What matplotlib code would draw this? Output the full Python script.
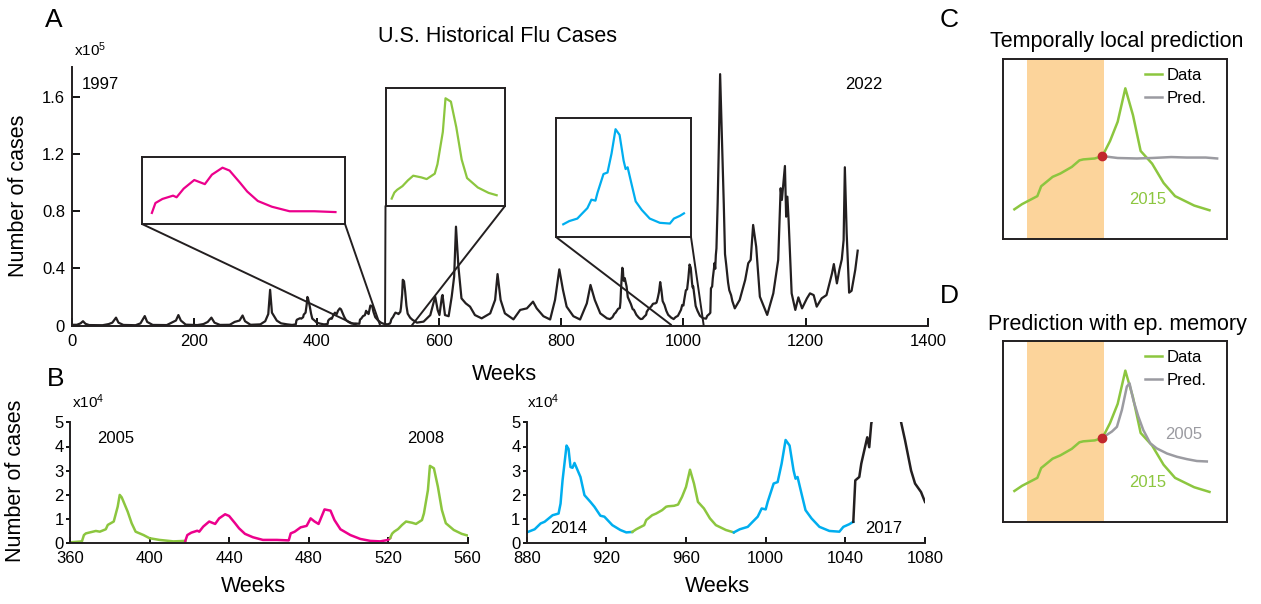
import numpy as np
import matplotlib
matplotlib.use('Agg')
import matplotlib.pyplot as plt
from matplotlib.patches import ConnectionPatch

plt.rcParams['font.family'] = ['Liberation Sans', 'DejaVu Sans']
plt.rcParams['mathtext.fontset'] = 'custom'
plt.rcParams['mathtext.rm'] = 'Liberation Sans'
plt.rcParams['mathtext.it'] = 'Liberation Sans:italic'

W, H = 1261, 604

BLACK = '#231F20'
GREEN = '#8CC63F'
MAGENTA = '#EC008C'
BLUE = '#00AEEF'
GRAY = '#9B9BA1'
ORANGE = '#FCD49B'
RED = '#C1272D'

# weekly U.S. flu cases, in units of 1e4
weeks_early = [0, 8, 14, 18, 22, 28, 50, 60, 66, 72, 76, 84, 104, 112, 119, 123, 132, 155, 163, 170,
               174, 178, 186, 205, 215, 222, 228, 233, 242, 258, 266, 274, 279, 283, 292, 308, 316, 321,
               324, 327, 335, 342, 352]
cases_early = [0.05, 0.05, 0.15, 0.30, 0.12, 0.03, 0.02, 0.10, 0.20, 0.55, 0.20, 0.04, 0.02, 0.15, 0.66,
               0.25, 0.04, 0.03, 0.20, 0.35, 0.73, 0.35, 0.06, 0.03, 0.10, 0.25, 0.55, 0.20, 0.04, 0.05,
               0.25, 0.35, 0.70, 0.30, 0.05, 0.08, 0.30, 0.80, 2.50, 0.90, 0.34, 0.15, 0.08]

weeks_0508 = [360, 366, 367, 368, 373, 375, 378, 379, 382, 384, 385, 386, 389, 391, 393, 397, 400, 405, 412, 418,
              419, 421, 424, 425, 427, 430, 433, 435, 438, 440, 443, 445, 448, 452, 457, 464, 470, 471, 473, 476,
              479, 481, 483, 485, 488, 491, 493, 496, 501, 506, 511, 516, 520, 521,
              522, 523, 525, 527, 529, 532, 534, 537, 538, 540, 541, 543, 545, 547, 549, 553, 557, 560]
cases_0508 = [0.04, 0.08, 0.34, 0.41, 0.51, 0.48, 0.58, 0.76, 0.90, 1.52, 2.00, 1.90, 1.31, 0.83, 0.48, 0.34,
              0.21, 0.14, 0.08, 0.10,
              0.34, 0.44, 0.52, 0.48, 0.69, 0.90, 0.80, 1.03, 1.20, 1.13, 0.83, 0.62, 0.39, 0.25, 0.14, 0.14,
              0.12, 0.41, 0.48, 0.66, 0.72, 1.03, 0.90, 0.80, 1.40, 1.35, 0.96, 0.58, 0.34, 0.18, 0.10, 0.08,
              0.14, 0.22,
              0.40, 0.48, 0.59, 0.76, 0.90, 0.85, 0.80, 0.96, 1.24, 2.20, 3.20, 3.10, 2.34, 1.38, 0.83, 0.55,
              0.39, 0.32]

weeks_mid = [564, 575, 586, 594, 598, 601, 605, 606, 610, 616, 621, 625, 628, 632, 637, 644, 651, 659, 670, 684,
             692, 696, 701, 708, 722, 733, 744, 754, 760, 771, 782, 790, 797, 803, 809, 820, 831, 842, 848, 855,
             864, 875]
cases_mid = [0.20, 0.27, 0.73, 2.02, 1.09, 0.73, 2.02, 2.14, 0.73, 0.65, 2.02, 3.42, 6.92, 4.12, 1.90, 1.55,
             1.32, 0.73, 0.50, 0.85, 1.79, 3.60, 1.79, 0.85, 0.43, 1.09, 1.20, 1.67, 1.20, 0.65, 0.42, 1.79,
             3.93, 2.49, 1.32, 0.65, 0.42, 1.55, 2.84, 1.79, 0.85, 0.50]

weeks_1418 = [880, 884, 887, 889, 893, 896, 897, 898, 900, 901, 902, 903, 904, 907, 909, 912, 914, 917, 919, 923,
              927, 930, 933,
              935, 939, 940, 943, 945, 948, 950, 951, 954, 956, 958, 960, 962, 964, 966, 969, 972, 975, 980, 984,
              987, 991, 993, 996, 998, 1000, 1001, 1004, 1006, 1008, 1010, 1012, 1014, 1015, 1016, 1018, 1020,
              1023, 1027, 1032, 1037, 1039, 1042, 1044,
              1045, 1047, 1048, 1051, 1052, 1053, 1054, 1056, 1058, 1060, 1063, 1066, 1068, 1070, 1073, 1075,
              1078, 1080]
cases_1418 = [0.45, 0.58, 0.82, 0.89, 1.16, 1.23, 1.64, 2.60, 4.04, 3.90, 3.15, 3.12, 3.32, 2.74, 1.99, 1.71,
              1.51, 1.14, 1.10, 0.75, 0.55, 0.45, 0.47,
              0.58, 0.75, 0.96, 1.16, 1.23, 1.37, 1.51, 1.53, 1.55, 1.60, 1.92, 2.33, 3.04, 2.47, 1.71, 1.44,
              1.03, 0.75, 0.55, 0.45,
              0.58, 0.68, 0.85, 1.10, 1.44, 1.40, 1.71, 2.47, 2.53, 3.29, 4.27, 4.04, 3.01, 2.67, 2.74, 2.05,
              1.37, 1.03, 0.68, 0.51, 0.48, 0.68, 0.79, 0.89,
              2.60, 2.74, 3.29, 4.38, 3.97, 4.93, 5.40, 8.60, 12.80, 17.60, 13.00, 8.50, 5.00, 4.25, 3.01, 2.47,
              2.12, 1.71]

weeks_late = [1084, 1092, 1095, 1101, 1106, 1110, 1114, 1119, 1125, 1137, 1147, 1155, 1159, 1161, 1163, 1166,
              1168, 1170, 1172, 1177, 1183, 1188, 1194, 1202, 1207, 1213, 1218, 1226, 1234, 1243, 1246, 1251,
              1255, 1259, 1262, 1264, 1267, 1271, 1275, 1281, 1285]
cases_late = [1.20, 1.79, 2.25, 3.19, 4.36, 4.60, 7.04, 5.52, 2.02, 0.74, 2.25, 4.59, 9.61, 8.79, 9.72, 11.17,
              7.62, 9.02, 7.39, 2.25, 1.09, 1.97, 1.20, 1.90, 2.25, 2.13, 1.32, 1.90, 2.13, 3.65, 4.30, 2.95,
              3.89, 4.63, 5.99, 11.08, 6.45, 2.30, 2.43, 3.89, 5.24]

# colored seasons in panel B (first week, last week, color)
segments_left = [(360, 418, GREEN), (418, 521, MAGENTA), (521, 560, GREEN)]
segments_right = [(880, 933, BLUE), (933, 984, GREEN), (984, 1044, BLUE), (1044, 1080, BLACK)]

# predictions for the 2015 season (panels C, D)
context_start, context_end = 936.4, 956.5
pred_local_weeks = [956, 960, 965, 969, 974, 978, 983, 986]
pred_local_cases = [1.60, 1.56, 1.55, 1.56, 1.58, 1.57, 1.57, 1.55]
pred_memory_weeks = [956, 957.2, 958.5, 959.8, 961.1, 962.4, 963.1, 964.1, 965.4, 966.7, 968.5, 970.2,
                     972.9, 975.5, 978.1, 980.7, 983.3]
pred_memory_cases = [1.60, 1.67, 1.74, 1.84, 2.20, 2.70, 2.77, 2.41, 2.06, 1.77, 1.49, 1.38, 1.27, 1.20,
                     1.15, 1.11, 1.10]

weeks = np.array(weeks_early + weeks_0508 + weeks_mid + weeks_1418 + weeks_late, dtype=float)
cases = np.array(cases_early + cases_0508 + cases_mid + cases_1418 + cases_late)


def box(x0, y0, x1, y1):
    return [x0 / W, 1 - y1 / H, (x1 - x0) / W, (y1 - y0) / H]


def ftext(x, y, s, **kw):
    fig.text(x / W, 1 - y / H, s, **kw)


def season(a, b):
    m = (weeks >= a) & (weeks <= b)
    return weeks[m], cases[m]


fig = plt.figure(figsize=(W / 100, H / 100), dpi=100)

# ---- A: full history
axA = fig.add_axes(box(72, 67, 928, 325.5))
axA.plot(weeks, cases / 10, color=BLACK, lw=1.6)
axA.set_xlim(0, 1400)
axA.set_ylim(0, 1.81)
axA.set_xticks(range(0, 1401, 200))
axA.set_yticks([0, 0.4, 0.8, 1.2, 1.6])
axA.set_yticklabels(['0', '0.4', '0.8', '1.2', '1.6'])
for s in ['top', 'right']:
    axA.spines[s].set_visible(False)
for s in ['left', 'bottom']:
    axA.spines[s].set_linewidth(1.4)
    axA.spines[s].set_color(BLACK)
axA.tick_params(axis='x', direction='in', length=6, width=1.3, labelsize=12, pad=6)
axA.tick_params(axis='y', direction='in', length=6, width=1.3, labelsize=12, pad=5)

insets = [
    (box(142, 157, 345, 224), MAGENTA, (418, 470), (415.2, 472.7), (-0.17, 1.46), (466, 0), (504, 0)),
    (box(385.5, 87.5, 505, 206), GREEN, (521, 560), (518.7, 563.1), (0.0, 3.52), (512, 0), (556, 0.02)),
    (box(556, 118, 691, 237), BLUE, (984, 1044), (980.4, 1047.5), (-0.06, 4.72), (980, 0.04), (1033, 0.04)),
]
for pos, col, (a, b), xl, yl, left_end, right_end in insets:
    ins = fig.add_axes(pos, zorder=3)
    wx, cy = season(a, b)
    ins.plot(wx, cy, color=col, lw=1.6)
    ins.set_xlim(*xl)
    ins.set_ylim(*yl)
    ins.set_xticks([])
    ins.set_yticks([])
    for s in ins.spines.values():
        s.set_linewidth(1.4)
        s.set_color(BLACK)
    for corner, end in [((0, 0), left_end), ((1, 0), right_end)]:
        cp = ConnectionPatch(xyA=corner, coordsA=ins.transAxes, xyB=(end[0], end[1] / 10),
                             coordsB=axA.transData, color=BLACK, lw=1.4, zorder=2)
        fig.add_artist(cp)

ftext(45, 27, 'A', fontsize=19)
ftext(497, 42.5, 'U.S. Historical Flu Cases', fontsize=15.5, ha='center', va='baseline')
ftext(74, 56, r'x10$^{5}$', fontsize=11, va='baseline')
ftext(82, 89.3, '1997', fontsize=12, va='baseline')
ftext(845, 89.3, '2022', fontsize=12, va='baseline')
ftext(19, 196, 'Number of cases', fontsize=15.5, rotation=90, ha='center', va='center')
ftext(504, 374, 'Weeks', fontsize=15.5, ha='center', va='center')

# ---- B: zoomed seasons
for pos, xl, segs in [(box(70, 422.3, 467.7, 543.3), (360, 560), segments_left),
                      (box(526.7, 422.3, 925, 543.3), (880, 1080), segments_right)]:
    ax = fig.add_axes(pos)
    for a, b, col in segs:
        wx, cy = season(a, b)
        ax.plot(wx, cy, color=col, lw=1.8)
    ax.set_xlim(*xl)
    ax.set_ylim(0, 5)
    ax.set_xticks(range(xl[0], xl[1] + 1, 40))
    ax.set_yticks(range(0, 6))
    for s in ['top', 'right']:
        ax.spines[s].set_visible(False)
    for s in ['left', 'bottom']:
        ax.spines[s].set_linewidth(1.4)
        ax.spines[s].set_color(BLACK)
    ax.tick_params(axis='x', direction='in', length=4, width=1.3, labelsize=12, pad=5.5)
    ax.tick_params(axis='y', direction='out', length=3, width=1.3, labelsize=12, pad=1.5)

ftext(47, 386, 'B', fontsize=19)
ftext(72, 408.3, r'x10$^{4}$', fontsize=11, va='baseline')
ftext(527, 408.3, r'x10$^{4}$', fontsize=11, va='baseline')
ftext(97, 443.3, '2005', fontsize=12, va='baseline')
ftext(407, 443.3, '2008', fontsize=12, va='baseline')
ftext(550, 532.7, '2014', fontsize=12, va='baseline')
ftext(865, 532.7, '2017', fontsize=12, va='baseline')
ftext(16, 481, 'Number of cases', fontsize=15.5, rotation=90, ha='center', va='center')
ftext(253, 587, 'Weeks', fontsize=15.5, ha='center', va='center')
ftext(717, 587, 'Weeks', fontsize=15.5, ha='center', va='center')

# ---- C, D: prediction schematics on the 2015 season
wx15, cy15 = season(933, 984)
split = np.where(wx15 == 956)[0][0]
panels = [
    (box(1003.3, 59, 1226.7, 239.3), (-0.167, 3.663), pred_local_weeks, pred_local_cases,
     'C', 27, 'Temporally local prediction', 47.3),
    (box(1003.3, 341, 1226.7, 522.3), (-0.199, 3.673), pred_memory_weeks, pred_memory_cases,
     'D', 303, 'Prediction with ep. memory', 330),
]
for pos, yl, pw, pc, letter, ly, title, ty in panels:
    ax = fig.add_axes(pos)
    ax.axvspan(context_start, context_end, color=ORANGE, lw=0)
    ax.plot(wx15, cy15, color=GREEN, lw=1.8, label='Data')
    ax.plot(pw, pc, color=GRAY, lw=1.8, label='Pred.')
    ax.plot(wx15[split], cy15[split], 'o', color=RED, ms=6, zorder=5)
    ax.set_xlim(930.1, 988.5)
    ax.set_ylim(*yl)
    ax.set_xticks([])
    ax.set_yticks([])
    for s in ax.spines.values():
        s.set_linewidth(1.4)
        s.set_color(BLACK)
    ax.legend(loc='upper left', bbox_to_anchor=(0.634, 0.95), frameon=False, fontsize=12,
              handlelength=1.0, handletextpad=0.3, borderpad=0, borderaxespad=0, labelspacing=0.45)
    ftext(940, ly, letter, fontsize=19)
    ftext(1117, ty, title, fontsize=15.5, ha='center', va='baseline')

ftext(1129, 204, '2015', fontsize=12, color=GREEN, va='baseline')
ftext(1165, 438.7, '2005', fontsize=12, color=GRAY, va='baseline')
ftext(1129, 487.3, '2015', fontsize=12, color=GREEN, va='baseline')

fig.savefig('out.png', dpi=100)
